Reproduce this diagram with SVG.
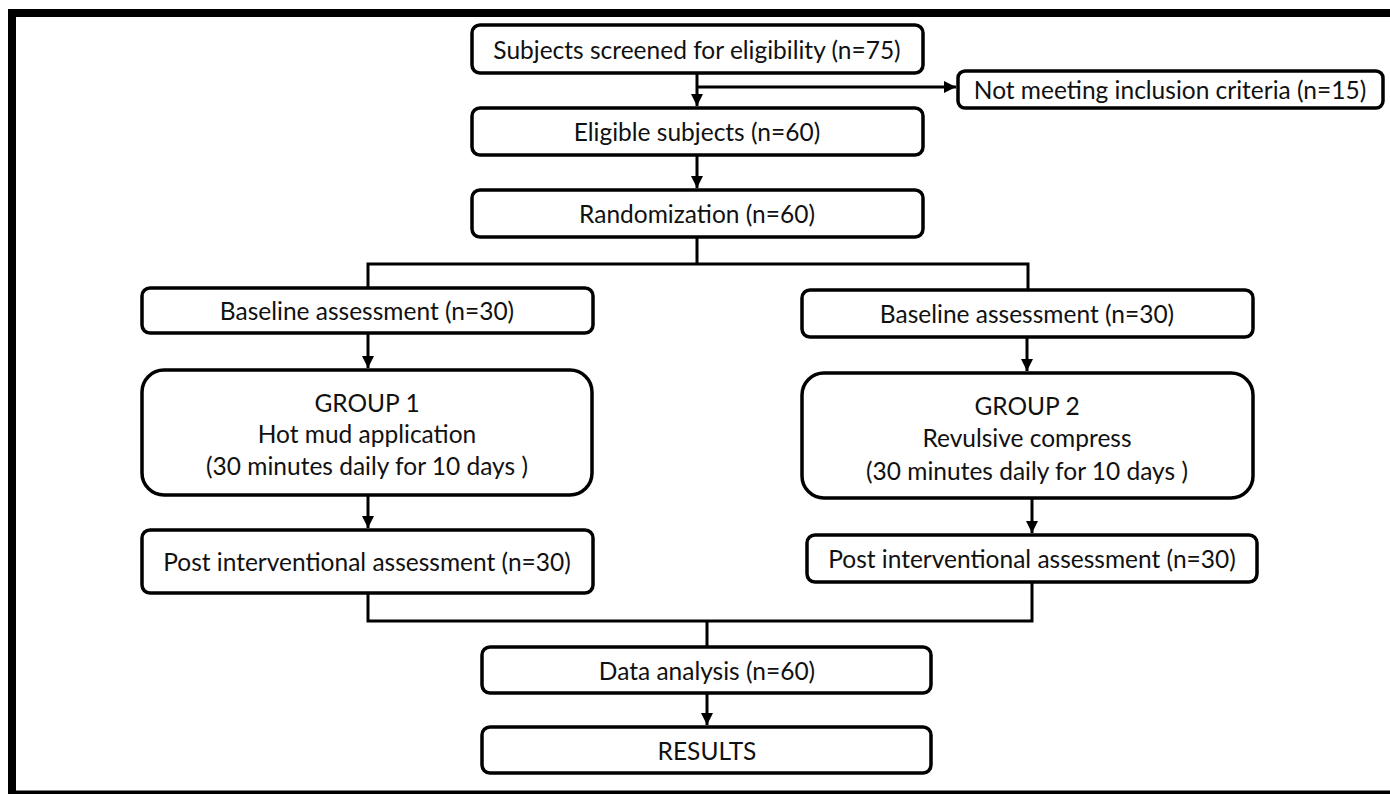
<svg xmlns="http://www.w3.org/2000/svg" width="1390" height="794" viewBox="0 0 1390 794">
<defs>
<marker id="ah" viewBox="0 0 10 10" refX="10" refY="5" markerWidth="4" markerHeight="4" markerUnits="strokeWidth" orient="auto">
<path d="M0,0 L10,5 L0,10 Z" fill="#000"/>
</marker>
<style>
.box{fill:#fff;stroke:#000;stroke-width:3.5}
.t{font-family:Lato,"Liberation Sans",sans-serif;font-size:24.5px;fill:#111;text-anchor:middle;dominant-baseline:central}
.c{fill:none;stroke:#000;stroke-width:3}
.frame{fill:none;stroke:#000;stroke-width:8}
</style>
</defs>
<rect width="1390" height="794" fill="#fff"/>
<path class="frame" d="M12,800 V13 H1395 M8,794.5 H1395"/>
<g id="connectors">
<path class="c" d="M697,73 V106" marker-end="url(#ah)"/>
<path class="c" d="M697,87 H956" marker-end="url(#ah)"/>
<path class="c" d="M697,155 V188" marker-end="url(#ah)"/>
<path class="c" d="M697,237 V264 M368,288 V264 H1028 V290"/>
<path class="c" d="M368,333 V368" marker-end="url(#ah)"/>
<path class="c" d="M368,495 V528" marker-end="url(#ah)"/>
<path class="c" d="M1027,337 V371" marker-end="url(#ah)"/>
<path class="c" d="M1032,498 V533" marker-end="url(#ah)"/>
<path class="c" d="M368,593 V621 H1032 V582 M707,621 V647"/>
<path class="c" d="M707,693 V725" marker-end="url(#ah)"/>
</g>
<g id="screened"><rect class="box" x="472" y="25" width="451" height="48" rx="8"/><text class="t" x="697" y="49">Subjects screened for eligibility (n=75)</text></g>
<g id="excluded"><rect class="box" x="958" y="71" width="425" height="37" rx="7"/><text class="t" x="1170" y="89.5">Not meeting inclusion criteria (n=15)</text></g>
<g id="eligible"><rect class="box" x="472" y="108" width="451" height="47" rx="8"/><text class="t" x="697" y="131.5">Eligible subjects (n=60)</text></g>
<g id="randomization"><rect class="box" x="472" y="190" width="451" height="47" rx="8"/><text class="t" x="697" y="213.5">Randomization (n=60)</text></g>
<g id="baseline1"><rect class="box" x="142" y="288" width="451" height="45" rx="8"/><text class="t" x="367" y="310.5">Baseline assessment (n=30)</text></g>
<g id="group1"><rect class="box" x="142" y="370" width="450" height="125" rx="22"/><text class="t" x="367" y="402">GROUP 1</text><text class="t" x="367" y="433">Hot mud application</text><text class="t" x="367" y="465">(30 minutes daily for 10 days )</text></g>
<g id="post1"><rect class="box" x="142" y="530" width="451" height="63" rx="8"/><text class="t" x="367" y="561.5">Post interventional assessment (n=30)</text></g>
<g id="baseline2"><rect class="box" x="802" y="290" width="451" height="47" rx="8"/><text class="t" x="1027" y="313.5">Baseline assessment (n=30)</text></g>
<g id="group2"><rect class="box" x="802" y="373" width="451" height="125" rx="22"/><text class="t" x="1027" y="405">GROUP 2</text><text class="t" x="1027" y="437">Revulsive compress</text><text class="t" x="1027" y="470">(30 minutes daily for 10 days )</text></g>
<g id="post2"><rect class="box" x="807" y="535" width="450" height="47" rx="8"/><text class="t" x="1032" y="558.5">Post interventional assessment (n=30)</text></g>
<g id="analysis"><rect class="box" x="482" y="647" width="449" height="46" rx="8"/><text class="t" x="707" y="670">Data analysis (n=60)</text></g>
<g id="results"><rect class="box" x="482" y="727" width="449" height="46" rx="8"/><text class="t" x="707" y="750">RESULTS</text></g>
</svg>
